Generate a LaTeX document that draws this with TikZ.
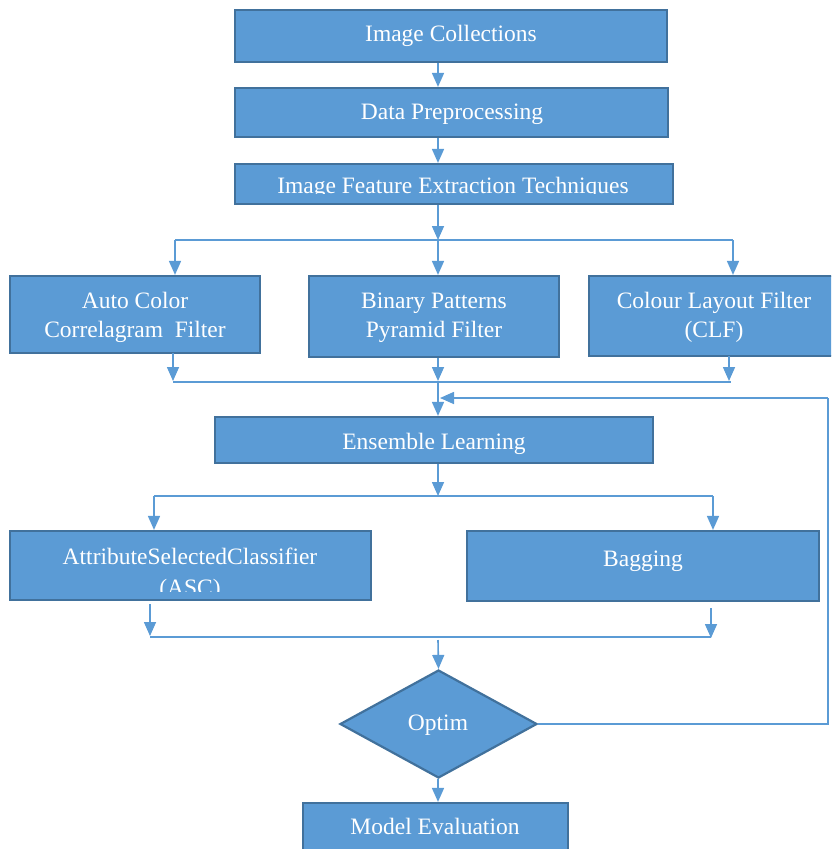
\documentclass[tikz,border=0pt]{standalone}
\usepackage{fontspec}
\setmainfont{Liberation Serif}
\usetikzlibrary{shapes.geometric,arrows.meta}
\definecolor{boxfill}{HTML}{5B9BD5}
\definecolor{boxline}{HTML}{41719C}
\definecolor{conn}{HTML}{5B9BD5}
\tikzset{
  box/.style={draw=boxline, fill=boxfill, line width=2.2pt, inner sep=0pt},
  dia/.style={diamond, draw=boxline, fill=boxfill, line width=2.2pt, inner sep=0pt, aspect=1.82},
  lbl/.style={text=white, inner sep=0pt, anchor=base, font=\fontsize{23.5}{29}\selectfont},
  conline/.style={draw=conn, line width=1.6pt},
  arr/.style={conline, -{Triangle[width=12pt,length=14pt]}}
}
\begin{document}
\begin{tikzpicture}[x=1pt,y=-1pt]
\useasboundingbox (0,0) rectangle (831,849);
\begin{scope}
\clip (0,0) rectangle (831,849);
% boxes
\node[box, minimum width=432pt, minimum height=52pt] (ic) at (451,36) {};
\node[box, minimum width=433pt, minimum height=49pt] (dp) at (451.5,112.5) {};
\node[box, minimum width=438pt, minimum height=40pt] (ife) at (454,184) {};
\node[box, minimum width=250pt, minimum height=77pt] (acc) at (135,314.5) {};
\node[box, minimum width=250pt, minimum height=81pt] (bpp) at (434,316.5) {};
\node[box, minimum width=244pt, minimum height=80pt] (clf) at (711,316) {};
\node[box, minimum width=438pt, minimum height=46pt] (ens) at (434,440) {};
\node[box, minimum width=361pt, minimum height=69pt] (asc) at (190.5,565.5) {};
\node[box, minimum width=352pt, minimum height=70pt] (bag) at (643,566) {};
\node[dia, minimum width=197pt, minimum height=108pt] (opt) at (438.5,724) {};
\node[box, minimum width=265pt, minimum height=48pt] (me) at (435.5,827) {};
% texts
\node[lbl] (ic-t) at (451,41) {Image Collections};
\node[lbl] (dp-t) at (452,119) {Data Preprocessing};
\begin{scope}
\clip (236,165) rectangle (672,193);
\node[lbl] (ife-t) at (453,193) {Image Feature Extraction Techniques};
\end{scope}
\node[lbl] (acc-t1) at (135,308) {Auto Color};
\node[lbl] (acc-t2) at (135,337) {Correlagram\ \ Filter};
\node[lbl] (bpp-t1) at (434,308) {Binary Patterns};
\node[lbl] (bpp-t2) at (434,337) {Pyramid Filter};
\node[lbl] (clf-t1) at (714,308) {Colour Layout Filter};
\node[lbl] (clf-t2) at (714,337) {(CLF)};
\node[lbl] (ens-t) at (434,449) {Ensemble Learning};
\begin{scope}
\clip (11,532) rectangle (370,591);
\node[lbl] (asc-t1) at (190,564) {AttributeSelectedClassifier};
\node[lbl] (asc-t2) at (190,595) {(ASC)};
\end{scope}
\node[lbl] (bag-t) at (643,566) {Bagging};
\node[lbl] (opt-t) at (438,730) {Optim};
\node[lbl] (me-t) at (435,834) {Model Evaluation};
\end{scope}
% coordinates
\coordinate (cx) at (438,0);
\coordinate (b1m) at (438,240);
\coordinate (b1l) at (175,240);
\coordinate (b1r) at (733,240);
\coordinate (a1) at (173,353);
\coordinate (a1e) at (173,381);
\coordinate (a2e) at (438,381);
\coordinate (a3) at (729,356);
\coordinate (a3e) at (729,381);
\coordinate (b2l) at (173,382);
\coordinate (b2r) at (731,382);
\coordinate (b2m) at (438,382);
\coordinate (fb1) at (828,724);
\coordinate (fb2) at (828,398);
\coordinate (fb3) at (440,398);
\coordinate (b3m) at (438,496);
\coordinate (b3l) at (154,496);
\coordinate (b3r) at (713,496);
\coordinate (c1) at (150,604);
\coordinate (c1e) at (150,636);
\coordinate (c2) at (711,608);
\coordinate (c2e) at (711,638);
\coordinate (b4l) at (150,637);
\coordinate (b4r) at (711,637);
\coordinate (b4m) at (438,640);
% connectors
\draw[arr] (cx |- ic.south) -- (cx |- dp.north);
\draw[arr] (cx |- dp.south) -- (cx |- ife.north);
\draw[arr] (cx |- ife.south) -- (b1m);
\draw[conline] (b1l) -- (b1r);
\draw[arr] (b1l) -- (b1l |- acc.north);
\draw[arr] (b1m) -- (b1m |- bpp.north);
\draw[arr] (b1r) -- (b1r |- clf.north);
\draw[arr] (a1) -- (a1e);
\draw[arr] (cx |- bpp.south) -- (a2e);
\draw[arr] (a3) -- (a3e);
\draw[conline] (b2l) -- (b2r);
\draw[arr] (b2m) -- (cx |- ens.north);
\draw[conline] (opt.east) -- (fb1) -- (fb2);
\draw[arr] (fb2) -- (fb3);
\draw[arr] (cx |- ens.south) -- (b3m);
\draw[conline] (b3l) -- (b3r);
\draw[arr] (b3l) -- (b3l |- asc.north);
\draw[arr] (b3r) -- (b3r |- bag.north);
\draw[arr] (c1) -- (c1e);
\draw[arr] (c2) -- (c2e);
\draw[conline] (b4l) -- (b4r);
\draw[arr] (b4m) -- (opt.north);
\draw[arr] (cx |- opt.south) -- (cx |- me.north);
\end{tikzpicture}
\end{document}
